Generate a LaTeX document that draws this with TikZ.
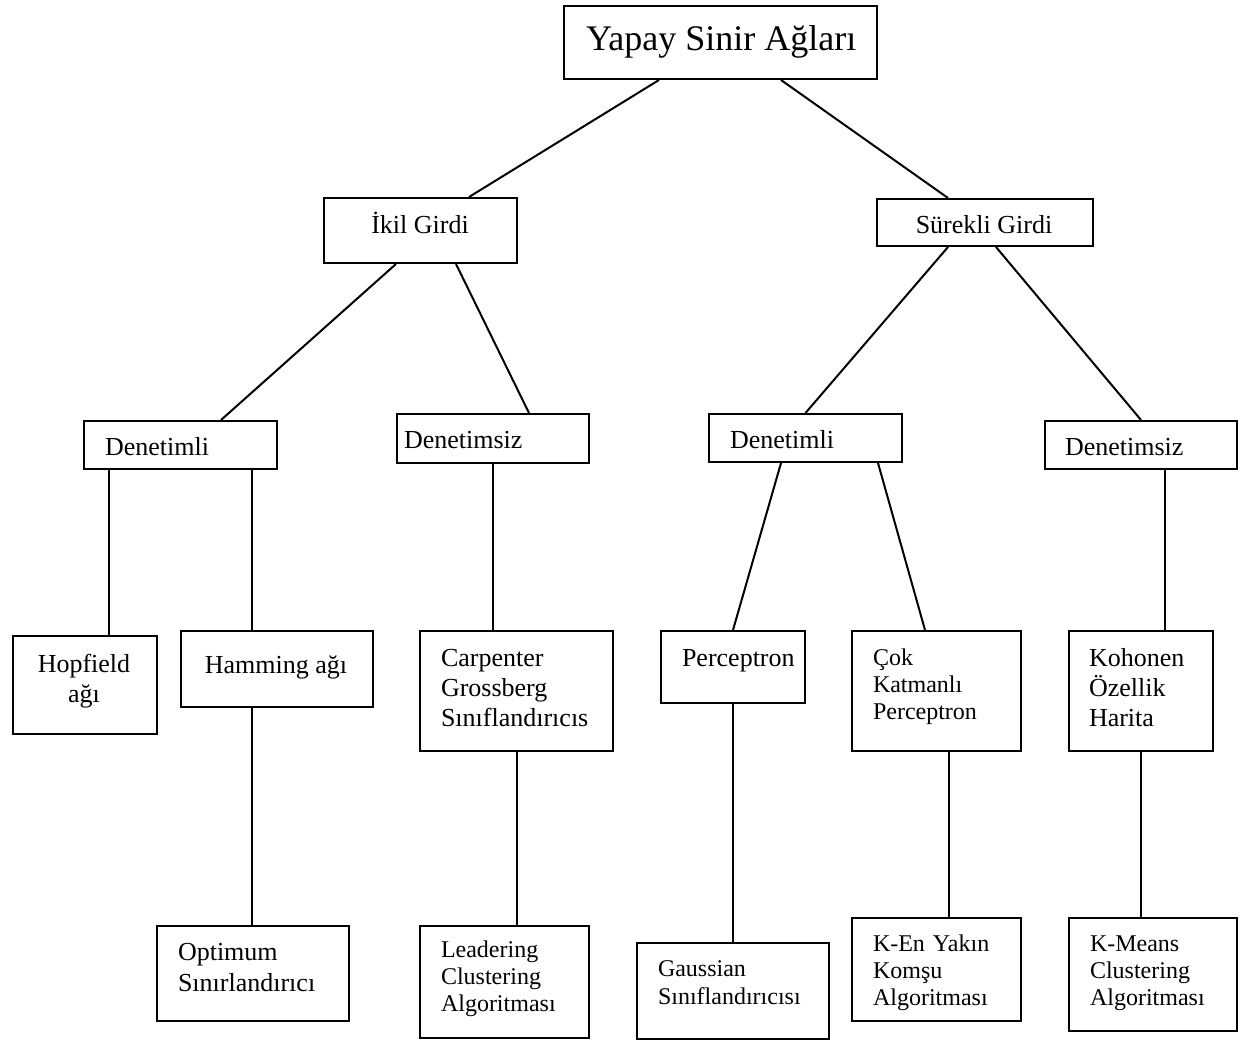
\documentclass[tikz,border=0pt]{standalone}
\usepackage{fontspec}
\setmainfont{Liberation Serif}
\usetikzlibrary{calc}

\begin{document}
\begin{tikzpicture}[x=1pt, y=-1pt, line width=2pt,
	box/.style={draw, rectangle, anchor=north west, inner sep=0pt},
	lbl/.style={inner sep=0pt, anchor=base west, align=left, font=\fontsize{26}{30}\selectfont},
	lblsmall/.style={lbl, font=\fontsize{24}{27}\selectfont}]

	\useasboundingbox (0,0) rectangle (1245,1039);

	% 方框
	\foreach \name/\x/\y/\w/\h in {
			root/563/5/313/73, ikil/323/197/193/65, surekli/876/198/216/47,
			denL/83/420/193/48, densizL/396/413/192/49, denR/708/413/193/48, densizR/1044/420/192/48,
			hopfield/12/635/144/98, hamming/180/630/192/76, carpenter/419/630/193/120,
			perc/660/630/144/72, cok/851/630/169/120, kohonen/1068/630/144/120,
			optimum/156/925/192/95, leader/419/925/169/112, gauss/636/942/192/96,
			ken/851/917/169/103, kmeans/1068/917/168/113} {
			\node[box, minimum width=\w pt, minimum height=\h pt] (\name) at (\x,\y) {};
		}

	% 第一排
	\node[lbl, font=\fontsize{36}{40}\selectfont] (troot) at (585,50) {Yapay Sinir Ağları};

	% 第二排
	\node[lbl, anchor=base] (tikil) at (420,233) {İkil Girdi};
	\node[lbl, anchor=base] (tsurekli) at (984,233) {Sürekli Girdi};

	% 第三排
	\node[lbl] (tdenL) at (104,455) {Denetimli};
	\node[lbl] (tdensizL) at (403,448) {Denetimsiz};
	\node[lbl] (tdenR) at (729,448) {Denetimli};
	\node[lbl] (tdensizR) at (1064,455) {Denetimsiz};

	% 第四排
	\node[lbl, text width=140pt, align=center, anchor=base] (thopfield) at (84,672) {Hopfield\\ağı};
	\node[lbl, anchor=base] (thamming) at (276,673) {Hamming ağı};
	\node[lbl, text width=170pt] (tcarpenter) at (440,666) {Carpenter\\Grossberg\\Sınıflandırıcıs};
	\node[lbl] (tperc) at (681,666) {Perceptron};
	\node[lblsmall, text width=140pt] (tcok) at (872,665) {Çok\\Katmanlı\\Perceptron};
	\node[lbl, text width=120pt] (tkohonen) at (1088,666) {Kohonen\\Özellik\\Harita};

	% 第五排
	\node[lbl, text width=170pt, font=\fontsize{26}{31}\selectfont] (toptimum) at (177,960) {Optimum\\Sınırlandırıcı};
	\node[lblsmall, text width=140pt] (tleader) at (440,957) {Leadering\\Clustering\\Algoritması};
	\node[lblsmall, text width=170pt, font=\fontsize{24}{28}\selectfont] (tgauss) at (657,976) {Gaussian\\Sınıflandırıcısı};
	\node[lblsmall, text width=140pt] (tken) at (872,951) {K-En Yakın\\Komşu\\Algoritması};
	\node[lblsmall, text width=140pt] (tkmeans) at (1089,951) {K-Means\\Clustering\\Algoritması};

	% 连线
	\foreach \a/\da/\b/\db in {
			root/-61.5/ikil/48.5, root/60.5/surekli/-37,
			ikil/-24.5/denL/40.5, ikil/35.5/densizL/36,
			surekli/-37/denR/0, surekli/11/densizR/0,
			denL/-71.5/hopfield/24, denL/71.5/hamming/-25,
			densizL/0/carpenter/-23.5,
			denR/-24.5/perc/0, denR/72.5/cok/-11.5,
			densizR/24/kohonen/24,
			hamming/-25/optimum/-1, carpenter/0.5/leader/12.5,
			perc/0/gauss/0, cok/12.5/ken/12.5, kohonen/0/kmeans/-12} {
			\draw ([xshift=\da pt]\a.south) -- ([xshift=\db pt]\b.north);
		}

\end{tikzpicture}
\end{document}
